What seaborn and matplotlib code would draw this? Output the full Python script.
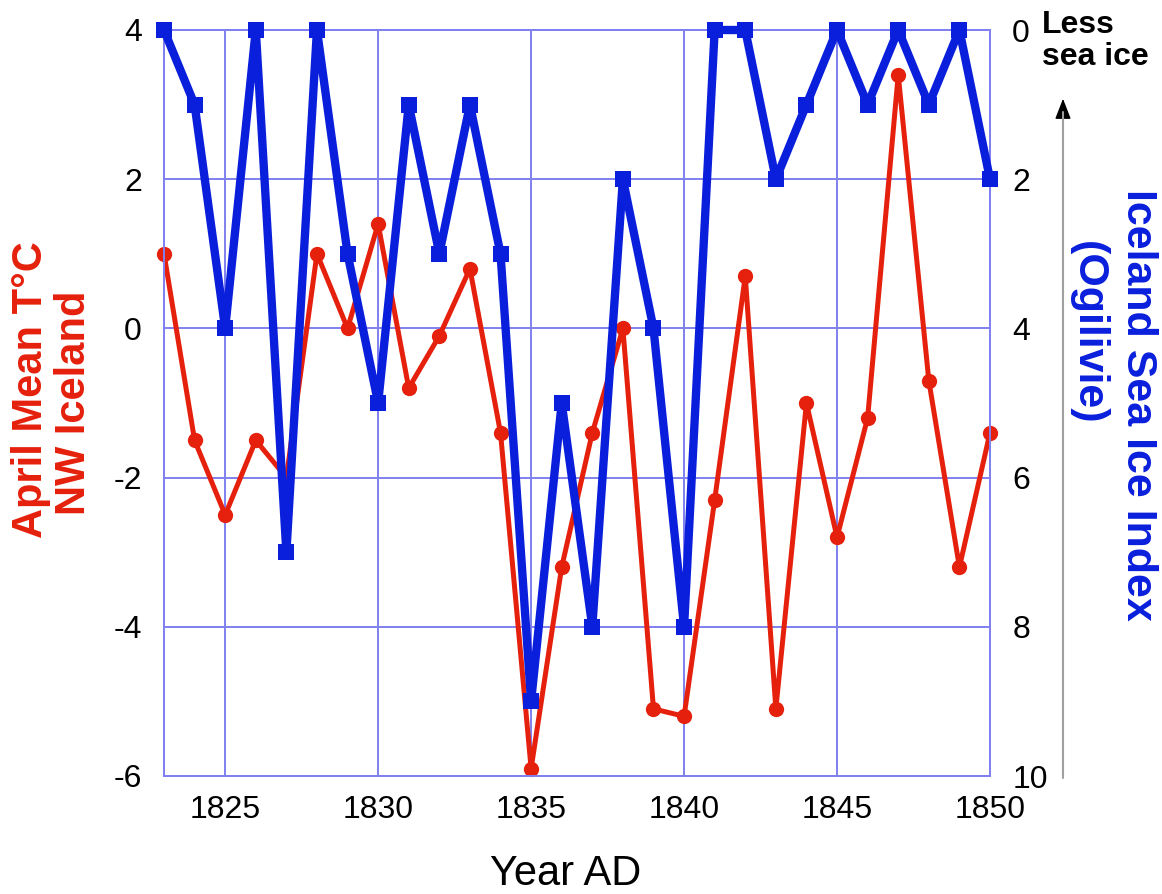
import matplotlib
matplotlib.use("Agg")
import matplotlib.pyplot as plt
import seaborn as sns
import pandas as pd
from matplotlib.lines import Line2D
from matplotlib.patches import FancyArrowPatch

years = list(range(1823, 1851))
april_temp = [1.0, -1.5, -2.5, -1.5, -2.0, 1.0, 0.0, 1.4, -0.8, -0.1,
              0.8, -1.4, -5.9, -3.2, -1.4, 0.0, -5.1, -5.2, -2.3, 0.7,
              -5.1, -1.0, -2.8, -1.2, 3.4, -0.7, -3.2, -1.4]
ice_index = [0, 1, 4, 0, 7, 0, 3, 5, 1, 3,
             1, 3, 9, 5, 8, 2, 4, 8, 0, 0,
             2, 1, 0, 1, 0, 1, 0, 2]
x_ticks = [1825, 1830, 1835, 1840, 1845, 1850]
left_ticks = [-6, -4, -2, 0, 2, 4]
right_ticks = [0, 2, 4, 6, 8, 10]

RED = "#e5200c"
BLUE = "#0a1fdc"
GRID = "#8080f0"

sns.set_style("white")
plt.rcParams["font.family"] = ["Liberation Sans", "DejaVu Sans"]
plt.rcParams["axes.unicode_minus"] = False
plt.rcParams["text.color"] = "black"

df = pd.DataFrame({"year": years, "temp": april_temp, "ice": ice_index})

fig = plt.figure(figsize=(11.62, 8.94), dpi=100)
ax = fig.add_axes([164 / 1162, 1 - 776 / 894, (990 - 164) / 1162, (776 - 30) / 894])

sns.lineplot(data=df, x="year", y="temp", ax=ax, color=RED, lw=3.6,
             marker="o", markersize=11, markeredgewidth=0, clip_on=False, zorder=3)
ax.set_xlim(1823, 1850)
ax.set_ylim(-6, 4)
ax.set_xticks(x_ticks)
ax.set_yticks(left_ticks)
ax.set_xticklabels([str(v) for v in x_ticks])
ax.set_yticklabels([str(v) for v in left_ticks])
ax.grid(True, color=GRID, lw=1.4)
ax.set_axisbelow(True)
ax.tick_params(axis="both", length=0, labelsize=23, colors="black", labelcolor="black")
ax.tick_params(axis="x", pad=14)
ax.tick_params(axis="y", pad=16)
ax.set_xlabel("")
ax.set_ylabel("")
for s in ax.spines.values():
    s.set_color(GRID)
    s.set_linewidth(1.4)

ax2 = ax.twinx()
sns.lineplot(data=df, x="year", y="ice", ax=ax2, color=BLUE, lw=6,
             marker="s", markersize=11.5, markeredgewidth=0, clip_on=False, zorder=4)
ax2.set_ylim(10, 0)
ax2.set_yticks(right_ticks)
ax2.set_yticklabels([str(v) for v in right_ticks])
ax2.tick_params(axis="y", length=0, labelsize=23, pad=16, colors="black", labelcolor="black")
ax2.set_ylabel("")
ax2.grid(False)
for s in ax2.spines.values():
    s.set_color(GRID)
    s.set_linewidth(1.4)

# Axis titles
fig.text(566 / 1162, 1 - 885 / 894, "Year AD", fontsize=30, color="black",
         ha="center", va="baseline")
fig.text(31 / 1162, 1 - 390 / 894, "April Mean T°C", fontsize=30, fontweight="bold",
         color=RED, rotation=90, ha="center", va="center")
fig.text(74 / 1162, 1 - 403 / 894, "NW Iceland", fontsize=30, fontweight="bold",
         color=RED, rotation=90, ha="center", va="center")
fig.text(1138 / 1162, 1 - 405 / 894, "Iceland Sea Ice Index", fontsize=31, fontweight="bold",
         color=BLUE, rotation=270, ha="center", va="center")
fig.text(1088 / 1162, 1 - 333 / 894, "(Ogilivie)", fontsize=31, fontweight="bold",
         color=BLUE, rotation=270, ha="center", va="center")

# "Less sea ice" annotation with arrow
fig.text(1042 / 1162, 1 - 33 / 894, "Less", fontsize=23, fontweight="bold", color="black",
         ha="left", va="baseline")
fig.text(1042 / 1162, 1 - 65 / 894, "sea ice", fontsize=23, fontweight="bold", color="black",
         ha="left", va="baseline")
fig.add_artist(Line2D([1063 / 1162, 1063 / 1162], [1 - 778 / 894, 1 - 112 / 894],
                      transform=fig.transFigure, color="#a0a0a0", lw=1.5))
fig.add_artist(FancyArrowPatch((1063 / 1162, 1 - 118 / 894), (1063 / 1162, 1 - 96 / 894),
                               transform=fig.transFigure, arrowstyle="-|>,head_length=0.9,head_width=0.35",
                               mutation_scale=14, color="black", lw=1))

fig.savefig("out.png", dpi=100)
